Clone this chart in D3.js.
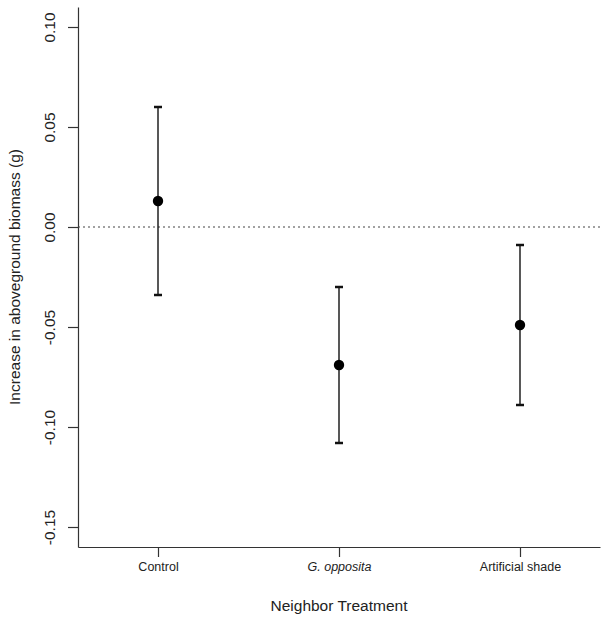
<!DOCTYPE html>
<html><head><meta charset="utf-8">
<script src="https://cdn.jsdelivr.net/npm/d3@7"></script>
<style>body{margin:0;background:#fff}svg{display:block}text{font-family:"Liberation Sans",Arial,Helvetica,sans-serif}</style>
</head><body>
<svg id="c" width="607" height="619"></svg>
<script>
const categories = ["Control", "G. opposita", "Artificial shade"];
const italicCats = [false, true, false];
const means = [0.013, -0.069, -0.049];
const upper = [0.060, -0.030, -0.009];
const lower = [-0.034, -0.108, -0.089];
const yTicks = [-0.15, -0.10, -0.05, 0.00, 0.05, 0.10];
const yTickLabels = ["-0.15", "-0.10", "-0.05", "0.00", "0.05", "0.10"];

const svg = d3.select("#c");
const x = d3.scaleLinear().domain([0.558, 3.442]).range([78, 600]);
const y = d3.scaleLinear().domain([-0.16, 0.11]).range([547, 7]);

// y axis
const yAxis = d3.axisLeft(y).tickValues(yTicks).tickFormat((d,i)=>yTickLabels[i]).tickSize(10).tickSizeOuter(0);
const gy = svg.append("g").attr("transform","translate(78,0)").call(yAxis);
gy.select(".domain").attr("stroke","#333").attr("stroke-width",1.2);
gy.selectAll(".tick line").attr("stroke","#333").attr("stroke-width",1.2);
gy.selectAll(".tick text")
  .attr("transform","translate(-23,0) rotate(-90)").attr("x",0).attr("y",0).attr("dy",0)
  .attr("text-anchor","middle").attr("font-size",15.5).attr("fill","#222");

// x axis
const xAxis = d3.axisBottom(x).tickValues([1,2,3]).tickFormat((d,i)=>categories[i]).tickSize(10).tickSizeOuter(0);
const gx = svg.append("g").attr("transform","translate(0,547)").call(xAxis);
gx.select(".domain").attr("stroke","#333").attr("stroke-width",1.2);
gx.selectAll(".tick line").attr("stroke","#333").attr("stroke-width",1.2);
gx.selectAll(".tick text").attr("font-size",12.5).attr("fill","#222").attr("y",24).attr("dy",0)
  .attr("font-style",(d,i)=>italicCats[i]?"italic":"normal");

// reference line at 0
svg.append("line").attr("x1",78).attr("x2",600).attr("y1",y(0)).attr("y2",y(0))
  .attr("stroke","#444").attr("stroke-width",1.2).attr("stroke-dasharray","2,3");

// error bars
const g = svg.append("g");
categories.forEach((c,i)=>{
  const cx = x(i+1);
  g.append("line").attr("x1",cx).attr("x2",cx).attr("y1",y(upper[i])).attr("y2",y(lower[i]))
    .attr("stroke","#111").attr("stroke-width",1.4);
  [upper[i], lower[i]].forEach(v=>{
    g.append("line").attr("x1",cx-4).attr("x2",cx+4).attr("y1",y(v)).attr("y2",y(v))
      .attr("stroke","#111").attr("stroke-width",2.5);
  });
  g.append("circle").attr("cx",cx).attr("cy",y(means[i])).attr("r",5.2).attr("fill","#000");
});

// axis titles
svg.append("text").attr("x",339).attr("y",611).attr("text-anchor","middle").attr("font-size",15.5).attr("fill","#222").text("Neighbor Treatment");
svg.append("text").attr("transform","translate(20,277) rotate(-90)").attr("text-anchor","middle").attr("font-size",15.5).attr("fill","#222").text("Increase in aboveground biomass (g)");
</script>
</body></html>
